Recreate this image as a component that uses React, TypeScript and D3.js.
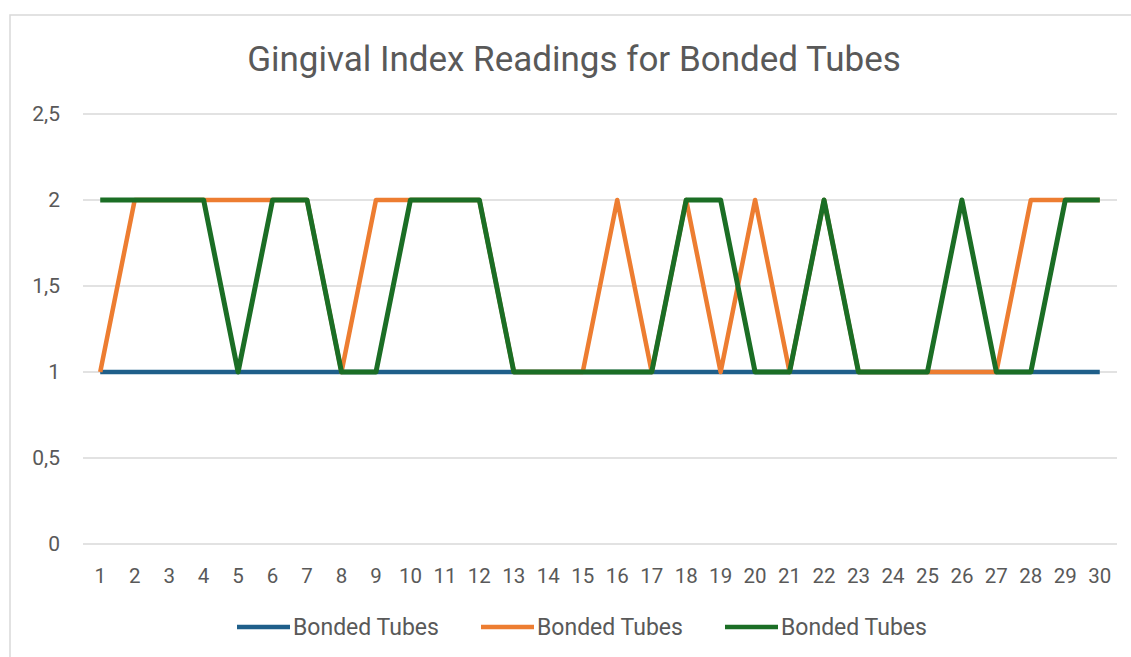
import React from "react";
import * as d3 from "d3";

const categories = ["1", "2", "3", "4", "5", "6", "7", "8", "9", "10", "11", "12", "13", "14", "15", "16", "17", "18", "19", "20", "21", "22", "23", "24", "25", "26", "27", "28", "29", "30"];
const seriesNames = ["Bonded Tubes", "Bonded Tubes", "Bonded Tubes"];
const blueValues = [1, 1, 1, 1, 1, 1, 1, 1, 1, 1, 1, 1, 1, 1, 1, 1, 1, 1, 1, 1, 1, 1, 1, 1, 1, 1, 1, 1, 1, 1];
const orangeValues = [1, 2, 2, 2, 2, 2, 2, 1, 2, 2, 2, 2, 1, 1, 1, 2, 1, 2, 1, 2, 1, 2, 1, 1, 1, 1, 1, 2, 2, 2];
const greenValues = [2, 2, 2, 2, 1, 2, 2, 1, 1, 2, 2, 2, 1, 1, 1, 1, 1, 2, 2, 1, 1, 2, 1, 1, 1, 2, 1, 1, 2, 2];
const yTicks = [0, 0.5, 1, 1.5, 2, 2.5];
const yTickLabels = ["0", "0,5", "1", "1,5", "2", "2,5"];
const colors = ["#1f5f8a", "#ed7d31", "#1b6e25"];

const width = 1131;
const height = 657;
const margin = { left: 83, right: 14, top: 114, bottom: 113 };
const font = "Roboto, 'Open Sans', sans-serif";
const textColor = "#595959";

export default function App() {
  const series = [blueValues, orangeValues, greenValues];

  const xScale = d3
    .scaleBand()
    .domain(categories)
    .range([margin.left, width - margin.right]);

  const yScale = d3
    .scaleLinear()
    .domain([0, 2.5])
    .range([height - margin.bottom, margin.top]);

  const cx = (c: string) => (xScale(c) as number) + xScale.bandwidth() / 2;

  const line = d3
    .line<number>()
    .x((d, i) => cx(categories[i]))
    .y((d) => yScale(d));

  let legendX = [237, 481, 725];

  return (
    <svg
      width={width}
      height={height}
      style={{ position: "absolute", left: 0, top: 0, background: "#fff" }}
    >
      <rect x={10} y={15} width={1140} height={660} fill="#fff" stroke="#d9d9d9" strokeWidth={1.5} />

      <text
        x={574}
        y={71}
        textAnchor="middle"
        fontFamily={font}
        fontSize={35}
        fill={textColor}
      >
        Gingival Index Readings for Bonded Tubes
      </text>

      {yTicks.map((t, i) => (
        <g key={t}>
          <line
            x1={margin.left}
            x2={width - margin.right}
            y1={yScale(t)}
            y2={yScale(t)}
            stroke="#d9d9d9"
            strokeWidth={1.5}
          />
          <text
            x={60}
            y={yScale(t)}
            dy="0.35em"
            textAnchor="end"
            fontFamily={font}
            fontSize={21}
            fill={textColor}
          >
            {yTickLabels[i]}
          </text>
        </g>
      ))}

      {categories.map((c) => (
        <text
          key={c}
          x={cx(c)}
          y={576}
          dy="0.35em"
          textAnchor="middle"
          fontFamily={font}
          fontSize={20.5}
          fill={textColor}
        >
          {c}
        </text>
      ))}

      {series.map((s, i) => (
        <path
          key={i}
          d={line(s) as string}
          fill="none"
          stroke={colors[i]}
          strokeWidth={i === 2 ? 5 : 4.5}
          strokeLinejoin="round"
        />
      ))}

      {seriesNames.map((name, i) => (
        <g key={i} transform={`translate(${legendX[i]}, 627)`}>
          <line x1={0} x2={53} y1={0} y2={0} stroke={colors[i]} strokeWidth={4.5} />
          <text
            x={56}
            y={0}
            dy="0.35em"
            fontFamily={font}
            fontSize={23}
            fill={textColor}
          >
            {name}
          </text>
        </g>
      ))}
    </svg>
  );
}
